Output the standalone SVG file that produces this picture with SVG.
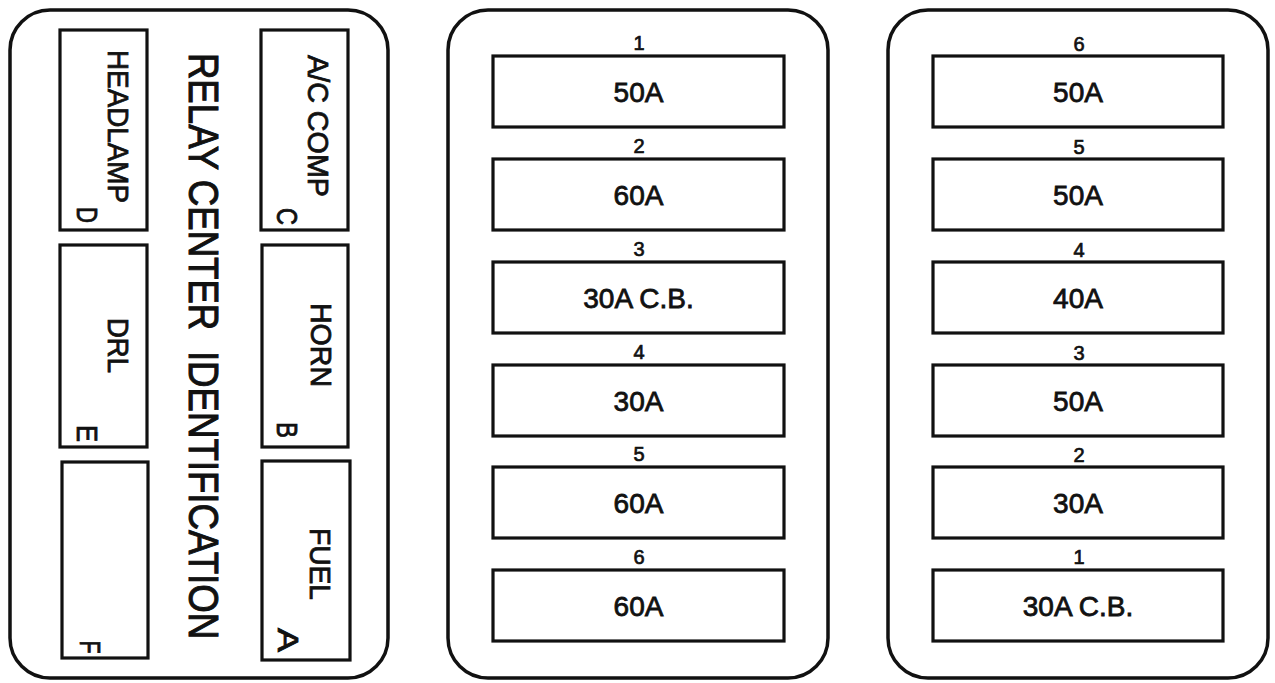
<svg xmlns="http://www.w3.org/2000/svg" width="1275" height="683" viewBox="0 0 1275 683">
<style>
.panel{fill:#fff;stroke:#111;stroke-width:3.5}
.box{fill:#fff;stroke:#111;stroke-width:3.2}
text{font-family:"Liberation Sans",Arial,Helvetica,sans-serif;fill:#111;stroke:#111;stroke-width:0.8}
.lbl{font-size:29px;text-anchor:middle}
.ltr{font-size:29px;text-anchor:middle}
.title{font-size:42px;text-anchor:middle;stroke-width:1}
.amp{font-size:28px;text-anchor:middle}
.num{font-size:20px;text-anchor:middle;stroke-width:0.7}
</style>
<rect width="1275" height="683" fill="#fff"/>

<g id="relay-center">
  <rect class="panel" x="10" y="10" width="378" height="668" rx="40" ry="40"/>
  <text class="title" transform="translate(189,346) rotate(90) scale(0.872,1)">RELAY CENTER<tspan dx="12"> IDENTIFICATION</tspan></text>
</g>

<g id="relay-D">
  <rect class="box" x="60" y="30" width="87" height="200"/>
  <text class="lbl" transform="translate(108,126.5) rotate(90)" textLength="153" lengthAdjust="spacingAndGlyphs">HEADLAMP</text>
  <text class="ltr" transform="translate(77,215) rotate(90)" textLength="16" lengthAdjust="spacingAndGlyphs">D</text>
</g>
<g id="relay-C">
  <rect class="box" x="261" y="30" width="87" height="200"/>
  <text class="lbl" transform="translate(308,126) rotate(90)" textLength="142" lengthAdjust="spacingAndGlyphs">A/C COMP</text>
  <text class="ltr" transform="translate(277,216.5) rotate(90)" textLength="17" lengthAdjust="spacingAndGlyphs">C</text>
</g>
<g id="relay-E">
  <rect class="box" x="60" y="245" width="87" height="202"/>
  <text class="lbl" transform="translate(108,345.5) rotate(90)" textLength="55" lengthAdjust="spacingAndGlyphs">DRL</text>
  <text class="ltr" transform="translate(77,433.5) rotate(90)" textLength="17" lengthAdjust="spacingAndGlyphs">E</text>
</g>
<g id="relay-B">
  <rect class="box" x="262" y="245" width="86" height="202"/>
  <text class="lbl" transform="translate(311,345) rotate(90)" textLength="84" lengthAdjust="spacingAndGlyphs">HORN</text>
  <text class="ltr" transform="translate(277,430) rotate(90)" textLength="16" lengthAdjust="spacingAndGlyphs">B</text>
</g>
<g id="relay-F">
  <rect class="box" x="62" y="462" width="86" height="196"/>
  <text class="ltr" transform="translate(80,647) rotate(90)" textLength="13" lengthAdjust="spacingAndGlyphs">F</text>
</g>
<g id="relay-A">
  <rect class="box" x="262" y="461" width="88" height="199"/>
  <text class="lbl" transform="translate(310,564) rotate(90)" textLength="72" lengthAdjust="spacingAndGlyphs">FUEL</text>
  <text class="ltr" transform="translate(278,640) rotate(90)" textLength="24" lengthAdjust="spacingAndGlyphs">A</text>
</g>

<g id="fuse-block-middle">
  <rect class="panel" x="448" y="10" width="380" height="668" rx="40" ry="40"/>
</g>
<g id="mid-fuse-1"><text class="num" x="639" y="50">1</text><rect class="box" x="493" y="56" width="291" height="71"/><text class="amp" x="638.5" y="101.5">50A</text></g>
<g id="mid-fuse-2"><text class="num" x="639" y="153">2</text><rect class="box" x="493" y="159" width="291" height="71"/><text class="amp" x="638.5" y="204.5">60A</text></g>
<g id="mid-fuse-3"><text class="num" x="639" y="256">3</text><rect class="box" x="493" y="262" width="291" height="71"/><text class="amp" x="638.5" y="307.5">30A C.B.</text></g>
<g id="mid-fuse-4"><text class="num" x="639" y="359">4</text><rect class="box" x="493" y="365" width="291" height="71"/><text class="amp" x="638.5" y="410.5">30A</text></g>
<g id="mid-fuse-5"><text class="num" x="639" y="461">5</text><rect class="box" x="493" y="467" width="291" height="71"/><text class="amp" x="638.5" y="512.5">60A</text></g>
<g id="mid-fuse-6"><text class="num" x="639" y="564">6</text><rect class="box" x="493" y="570" width="291" height="71"/><text class="amp" x="638.5" y="615.5">60A</text></g>

<g id="fuse-block-right">
  <rect class="panel" x="888" y="10" width="380" height="668" rx="40" ry="40"/>
</g>
<g id="right-fuse-6"><text class="num" x="1079" y="51">6</text><rect class="box" x="933" y="56" width="290" height="71"/><text class="amp" x="1078" y="101.5">50A</text></g>
<g id="right-fuse-5"><text class="num" x="1079" y="154">5</text><rect class="box" x="933" y="159" width="290" height="71"/><text class="amp" x="1078" y="204.5">50A</text></g>
<g id="right-fuse-4"><text class="num" x="1079" y="257">4</text><rect class="box" x="933" y="262" width="290" height="71"/><text class="amp" x="1078" y="307.5">40A</text></g>
<g id="right-fuse-3"><text class="num" x="1079" y="360">3</text><rect class="box" x="933" y="365" width="290" height="71"/><text class="amp" x="1078" y="410.5">50A</text></g>
<g id="right-fuse-2"><text class="num" x="1079" y="462">2</text><rect class="box" x="933" y="467" width="290" height="71"/><text class="amp" x="1078" y="512.5">30A</text></g>
<g id="right-fuse-1"><text class="num" x="1079" y="564">1</text><rect class="box" x="933" y="570" width="290" height="71"/><text class="amp" x="1078" y="615.5">30A C.B.</text></g>

<g id="connectors"></g>
</svg>
